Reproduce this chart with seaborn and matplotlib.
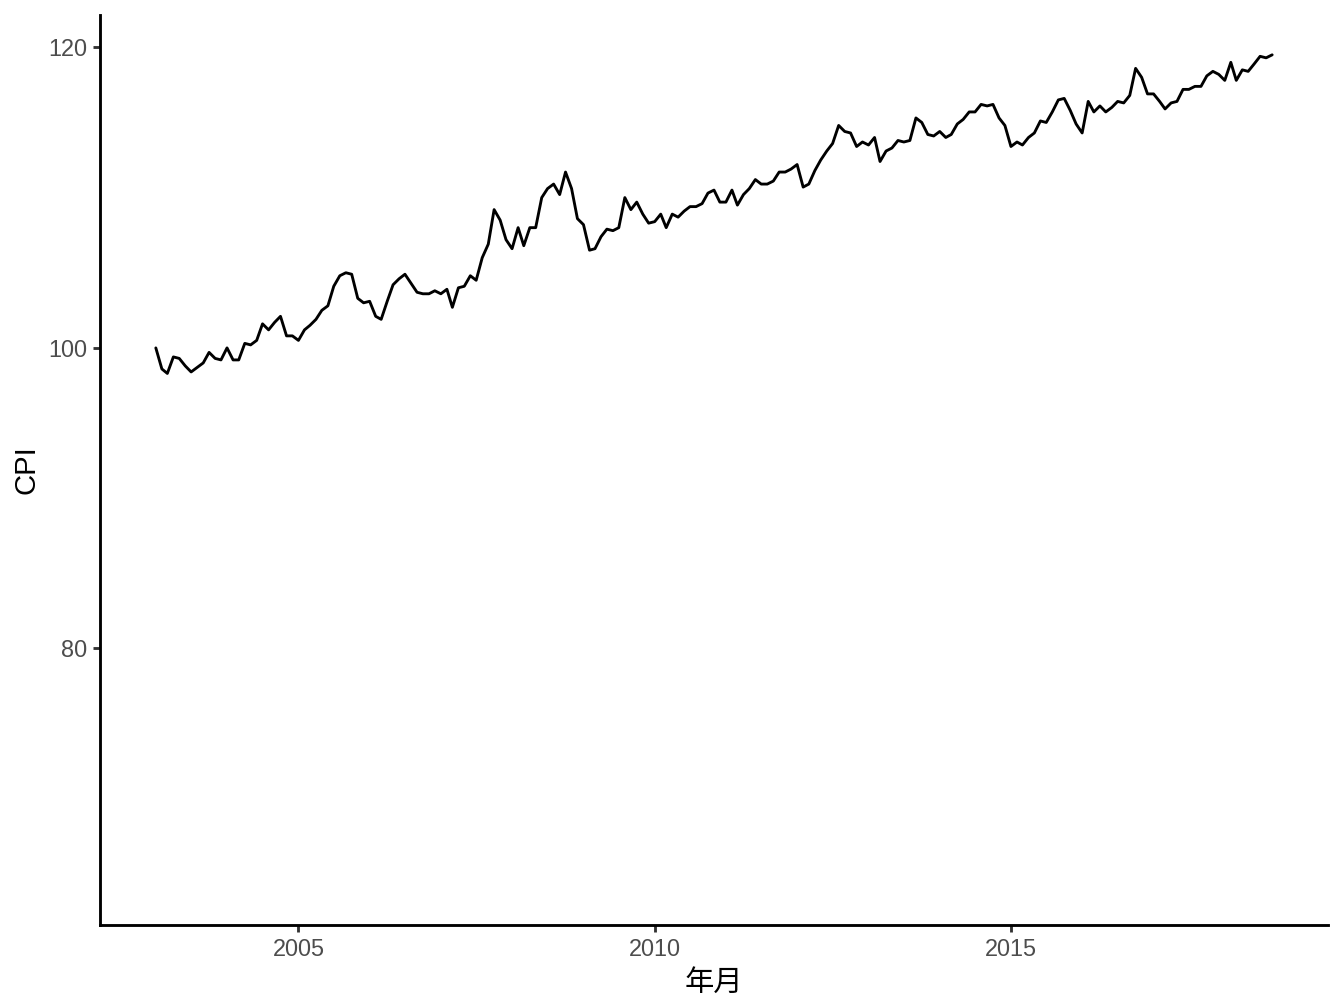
import pandas as pd
import numpy as np
import matplotlib
matplotlib.use("Agg")
import matplotlib.pyplot as plt
import matplotlib.dates as mdates
import seaborn as sns

# monthly CPI, 2003-01 .. 2018-09 (one row per year)
start_month = "2003-01-01"
cpi = [
    100.0, 98.6, 98.3, 99.4, 99.3, 98.8, 98.4, 98.7, 99.0, 99.7, 99.3, 99.2,
    100.0, 99.2, 99.2, 100.3, 100.2, 100.5, 101.6, 101.2, 101.7, 102.1, 100.8, 100.8,
    100.5, 101.2, 101.5, 101.9, 102.5, 102.8, 104.1, 104.8, 105.0, 104.9, 103.3, 103.0,
    103.1, 102.1, 101.9, 103.1, 104.2, 104.6, 104.9, 104.3, 103.7, 103.6, 103.6, 103.8,
    103.6, 103.9, 102.7, 104.0, 104.1, 104.8, 104.5, 106.0, 106.9, 109.2, 108.5, 107.2,
    106.6, 108.0, 106.8, 108.0, 108.0, 110.0, 110.6, 110.9, 110.2, 111.7, 110.6, 108.6,
    108.2, 106.5, 106.6, 107.4, 107.9, 107.8, 108.0, 110.0, 109.2, 109.7, 108.9, 108.3,
    108.4, 108.9, 108.0, 108.9, 108.7, 109.1, 109.4, 109.4, 109.6, 110.3, 110.5, 109.7,
    109.7, 110.5, 109.5, 110.2, 110.6, 111.2, 110.9, 110.9, 111.1, 111.7, 111.7, 111.9,
    112.2, 110.7, 110.9, 111.8, 112.5, 113.1, 113.6, 114.8, 114.4, 114.3, 113.4, 113.7,
    113.5, 114.0, 112.4, 113.1, 113.3, 113.8, 113.7, 113.8, 115.3, 115.0, 114.2, 114.1,
    114.4, 114.0, 114.2, 114.9, 115.2, 115.7, 115.7, 116.2, 116.1, 116.2, 115.3, 114.8,
    113.4, 113.7, 113.5, 114.0, 114.3, 115.1, 115.0, 115.7, 116.5, 116.6, 115.8, 114.9,
    114.3, 116.4, 115.7, 116.1, 115.7, 116.0, 116.4, 116.3, 116.8, 118.6, 118.0, 116.9,
    116.9, 116.4, 115.9, 116.3, 116.4, 117.2, 117.2, 117.4, 117.4, 118.1, 118.4, 118.2,
    117.8, 119.0, 117.8, 118.5, 118.4, 118.9, 119.4, 119.3, 119.5,
]
x_tick_years = [2005, 2010, 2015]
y_ticks = [80, 100, 120]
y_limits = (61.6, 122.15)

df = pd.DataFrame({
    "年月": pd.date_range(start_month, periods=len(cpi), freq="MS"),
    "CPI": cpi,
})

sns.set_style("ticks")
plt.rcParams["font.family"] = ["Liberation Sans", "Noto Sans CJK SC", "DejaVu Sans"]

fig = plt.figure(figsize=(7, 5.25), dpi=192)
ax = fig.add_axes([100 / 1344, 1 - 925 / 1008, 1228 / 1344, 910 / 1008])

sns.lineplot(data=df, x="年月", y="CPI", color="black", linewidth=1.07, ax=ax)

# ggplot-like 5% expansion on x
d0, d1 = df["年月"].min(), df["年月"].max()
pad = (d1 - d0) * 0.05
ax.set_xlim(d0 - pad, d1 + pad)
ax.set_ylim(*y_limits)

ax.set_xticks([pd.Timestamp(f"{y}-01-01") for y in x_tick_years])
ax.xaxis.set_major_formatter(mdates.DateFormatter("%Y"))
ax.set_yticks(y_ticks)

for side in ["top", "right"]:
    ax.spines[side].set_visible(False)
for side in ["left", "bottom"]:
    ax.spines[side].set_color("black")
    ax.spines[side].set_linewidth(1.07)

ax.tick_params(axis="both", length=2.75, width=1.07, color="#333333",
               labelsize=8.8, labelcolor="#4D4D4D", pad=2.2)
ax.set_xlabel("年月", fontsize=11, color="black", labelpad=2.75)
ax.set_ylabel("CPI", fontsize=11, color="black", labelpad=2.75)
ax.grid(False)

fig.savefig("out.png", dpi=192)
